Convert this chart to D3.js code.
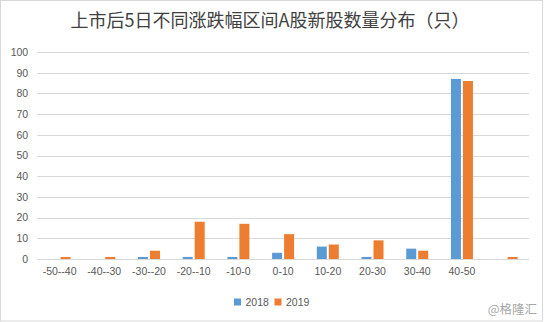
<!DOCTYPE html>
<html>
<head>
<meta charset="utf-8">
<script src="https://cdn.jsdelivr.net/npm/d3@7"></script>
<style>
  html, body { margin: 0; padding: 0; background: #fff; }
  svg { display: block; }
</style>
</head>
<body>
<svg id="chart" width="544" height="322"></svg>
<script>
const title = "上市后5日不同涨跌幅区间A股新股数量分布（只）";
const categories = ["-50--40", "-40--30", "-30--20", "-20--10", "-10-0", "0-10", "10-20", "20-30", "30-40", "40-50", ""];
const seriesNames = ["2018", "2019"];
const values2018 = [0, 0, 1, 1, 1, 3, 6, 1, 5, 87, 0];
const values2019 = [1, 1, 4, 18, 17, 12, 7, 9, 4, 86, 1];
const yTicks = [0, 10, 20, 30, 40, 50, 60, 70, 80, 90, 100];
const colors = ["#5b9bd5", "#ed7d31"];
const watermark = "@格隆汇";

const series = [values2018, values2019];
const svg = d3.select("#chart");
const W = 544, H = 322;
const plotLeft = 37.2, plotRight = 529, plotTop = 52, plotBottom = 259;

// chart border
svg.append("rect").attr("x", 0.5).attr("y", 0.5).attr("width", W - 2).attr("height", H - 1.5)
  .attr("fill", "#fff").attr("stroke", "#d9d9d9").attr("stroke-width", 1);

const x0 = d3.scaleBand().domain(d3.range(categories.length)).range([plotLeft, plotRight])
  .paddingInner(0.508).paddingOuter(0.254);
const x1 = d3.scaleBand().domain(seriesNames).range([0, x0.bandwidth()]).paddingInner(0.1667);
const y = d3.scaleLinear().domain([0, 100]).range([plotBottom, plotTop]);

// gridlines
svg.append("g").selectAll("line").data(yTicks.filter(d => d > 0)).join("line")
  .attr("x1", plotLeft).attr("x2", plotRight)
  .attr("y1", d => Math.round(y(d)) + 0.5).attr("y2", d => Math.round(y(d)) + 0.5)
  .attr("stroke", "#d9d9d9").attr("stroke-width", 1);

// y tick labels via axis
const yAxis = svg.append("g").attr("transform", `translate(${plotLeft},0)`)
  .call(d3.axisLeft(y).tickValues(yTicks).tickSize(0).tickPadding(9));
yAxis.select(".domain").remove();
yAxis.selectAll("text").attr("font-family", "'Liberation Sans', Arial, sans-serif")
  .attr("font-size", "10.5px").attr("fill", "#595959");

// bars
const groups = svg.append("g").selectAll("g").data(categories).join("g")
  .attr("transform", (d, i) => `translate(${x0(i)},0)`);
groups.selectAll("rect").data((d, i) => series.map((s, k) => ({ k, v: s[i] }))).join("rect")
  .attr("x", d => x1(seriesNames[d.k]))
  .attr("width", x1.bandwidth())
  .attr("y", d => y(d.v))
  .attr("height", d => y(0) - y(d.v))
  .attr("fill", d => colors[d.k]);

// x axis line
svg.append("line").attr("x1", plotLeft).attr("x2", plotRight)
  .attr("y1", Math.round(y(0)) + 0.5).attr("y2", Math.round(y(0)) + 0.5)
  .attr("stroke", "#d9d9d9").attr("stroke-width", 1);

// x labels via axis
const xAxisScale = d3.scaleBand().domain(categories.map((c, i) => i)).range([plotLeft, plotRight]);
const xAxis = svg.append("g").attr("transform", `translate(0,${plotBottom})`)
  .call(d3.axisBottom(xAxisScale).tickSize(0).tickPadding(9).tickFormat(i => categories[i]));
xAxis.select(".domain").remove();
xAxis.selectAll("text").attr("font-family", "'Liberation Sans', Arial, sans-serif")
  .attr("font-size", "10.5px").attr("fill", "#595959");

// title
svg.append("text").attr("x", 270).attr("y", 27).attr("text-anchor", "middle")
  .attr("font-family", "'Noto Sans CJK SC', sans-serif").attr("font-size", "18px")
  .attr("fill", "#404040").text(title);

// legend
const legend = svg.append("g");
const legendX = [234, 274.5];
seriesNames.forEach((name, k) => {
  legend.append("rect").attr("x", legendX[k]).attr("y", 298.5).attr("width", 7).attr("height", 7)
    .attr("fill", colors[k]);
  legend.append("text").attr("x", legendX[k] + 11.5).attr("y", 306)
    .attr("font-family", "'Liberation Sans', Arial, sans-serif").attr("font-size", "10.5px")
    .attr("fill", "#595959").text(name);
});

// watermark
svg.append("text").attr("x", 537).attr("y", 314).attr("text-anchor", "end")
  .attr("font-family", "'Noto Sans CJK SC', sans-serif").attr("font-size", "12.5px")
  .attr("fill", "#a6a6a6").text(watermark);
</script>
</body>
</html>
